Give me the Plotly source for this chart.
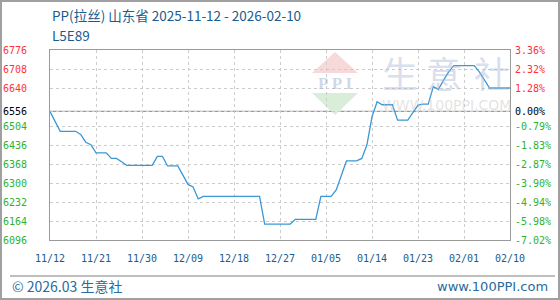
import plotly.graph_objects as go
import pandas as pd

# ---------------- data ----------------
start_date = "2025-11-12"
end_date = "2026-02-10"
base_price = 6556

prices = [
    6556, 6520, 6485, 6485, 6485, 6485, 6474, 6446, 6437, 6408,
    6408, 6408, 6388, 6388, 6376, 6363, 6363, 6363, 6363, 6363,
    6363, 6395, 6395, 6361, 6361, 6361, 6328, 6295, 6286, 6243,
    6252, 6252, 6252, 6252, 6252, 6252, 6252, 6252, 6252, 6252,
    6252, 6252, 6153, 6153, 6153, 6153, 6153, 6153, 6170, 6170,
    6170, 6170, 6170, 6252, 6252, 6252, 6275, 6325, 6379, 6379,
    6379, 6388, 6436, 6537, 6591, 6580, 6580, 6580, 6525, 6525,
    6525, 6552, 6579, 6582, 6582, 6645, 6635, 6668, 6698, 6720,
    6720, 6720, 6720, 6720, 6698, 6668, 6640, 6640, 6640, 6640,
    6640,
]

x_tick_dates = ["2025-11-12", "2025-11-21", "2025-11-30", "2025-12-09", "2025-12-18",
                "2025-12-27", "2026-01-05", "2026-01-14", "2026-01-23", "2026-02-01",
                "2026-02-10"]
x_tick_labels = ["11/12", "11/21", "11/30", "12/09", "12/18", "12/27",
                 "01/05", "01/14", "01/23", "02/01", "02/10"]

y_tick_values = [6776, 6708, 6640, 6556, 6504, 6436, 6368, 6300, 6232, 6164, 6096]
y_tick_labels = ["6776", "6708", "6640", "6556", "6504", "6436", "6368", "6300",
                 "6232", "6164", "6096"]
pct_tick_labels = ["3.36%", "2.32%", "1.28%", "0.00%", "-0.79%", "-1.83%", "-2.87%",
                   "-3.90%", "-4.94%", "-5.98%", "-7.02%"]

title_text = "PP(拉丝) 山东省 2025-11-12 - 2026-02-10"
code_text = "L5E89"
footer_left = "© 2026.03 生意社"
footer_right = "www.100PPI.com"

# ---------------- styling ----------------
W, H = 560, 300
ML, MR, MT, MB = 50, 50, 50, 60
PW, PH = W - ML - MR, H - MT - MB

RED, GREEN, BLACK = "#ff3333", "#2fb12f", "#000000"
BLUE_TXT = "#1a5c8e"
MONO = "DejaVu Sans Mono"


def px(x):
    return (x - ML) / PW


def py(y):
    return (H - MB - y) / PH


def colour_for(v):
    if v > base_price:
        return RED
    if v < base_price:
        return GREEN
    return BLACK


left_text = [f'<span style="color:{colour_for(v)}">{t}</span>'
             for v, t in zip(y_tick_values, y_tick_labels)]
right_text = [f'<span style="color:{colour_for(v)}">{t}</span>'
              for v, t in zip(y_tick_values, pct_tick_labels)]

dates = pd.date_range(start_date, periods=len(prices), freq="D")

fig = go.Figure()
fig.add_trace(go.Scatter(x=dates, y=prices, mode="lines",
                         line=dict(color="#3a98d6", width=1.3),
                         hoverinfo="skip", showlegend=False))
fig.add_trace(go.Scatter(x=dates, y=prices, mode="lines", yaxis="y2",
                         line=dict(color="rgba(0,0,0,0)", width=0),
                         hoverinfo="skip", showlegend=False))

grid = "#cccccc"
frame = "#9a9a9a"

fig.update_layout(
    width=W, height=H,
    margin=dict(l=ML, r=MR, t=MT, b=MB, pad=0, autoexpand=False),
    paper_bgcolor="white", plot_bgcolor="white",
    showlegend=False,
    xaxis=dict(type="date", range=[start_date, end_date], automargin=False,
               tickmode="array", tickvals=x_tick_dates, ticktext=x_tick_labels,
               showgrid=True, gridcolor=grid, griddash="3px,3px", gridwidth=1,
               showline=True, mirror=True, linecolor=frame, linewidth=1,
               ticks="", ticklabelstandoff=9,
               tickfont=dict(family=MONO, size=10, color=BLUE_TXT),
               zeroline=False, fixedrange=True),
    yaxis=dict(range=[y_tick_values[-1], y_tick_values[0]], automargin=False,
               tickmode="array", tickvals=y_tick_values, ticktext=left_text,
               showgrid=True, gridcolor=grid, griddash="3px,3px", gridwidth=1,
               showline=True, mirror=True, linecolor=frame, linewidth=1,
               ticks="", ticklabelstandoff=20,
               tickfont=dict(family=MONO, size=10, color=BLACK),
               zeroline=False, fixedrange=True),
    yaxis2=dict(range=[y_tick_values[-1], y_tick_values[0]], overlaying="y", side="right",
                automargin=False,
                tickmode="array", tickvals=y_tick_values, ticktext=right_text,
                showgrid=False, showline=False, ticks="", ticklabelstandoff=4,
                tickfont=dict(family=MONO, size=10, color=BLACK),
                zeroline=False, fixedrange=True),
)

shapes = []
# base price line
shapes.append(dict(type="line", xref="paper", yref="y", x0=0, x1=1,
                   y0=base_price, y1=base_price,
                   line=dict(color="#9a9a9a", width=1.2), layer="below"))
# watermark logo: red triangle, green inverted triangle
shapes.append(dict(type="path", xref="paper", yref="paper", layer="below",
                   path=f"M {px(312)} {py(73)} L {px(335)} {py(52)} L {px(358)} {py(73)} Z",
                   fillcolor="#f7d9d9", line=dict(width=0)))
shapes.append(dict(type="path", xref="paper", yref="paper", layer="below",
                   path=f"M {px(312)} {py(93)} L {px(358)} {py(93)} L {px(335)} {py(115)} Z",
                   fillcolor="#d9eed9", line=dict(width=0)))
# footer separator
shapes.append(dict(type="line", xref="paper", yref="paper",
                   x0=px(10), x1=px(555), y0=py(276), y1=py(276),
                   line=dict(color="#a8a8a8", width=1.5)))
# outer border
shapes.append(dict(type="rect", xref="paper", yref="paper",
                   x0=px(1), x1=px(559), y0=py(299), y1=py(1),
                   line=dict(color="#a0a0a0", width=2)))
fig.update_layout(shapes=shapes)

ann = []
ann.append(dict(text=title_text, xref="paper", yref="paper", x=px(50), y=py(15),
                xanchor="left", yanchor="middle", showarrow=False,
                font=dict(family="Noto Sans CJK SC", size=13.5, color=BLUE_TXT)))
ann.append(dict(text=code_text, xref="paper", yref="paper", x=px(50), y=py(35),
                xanchor="left", yanchor="middle", showarrow=False,
                font=dict(family="Noto Sans CJK SC", size=13.5, color=BLUE_TXT)))
ann.append(dict(text=footer_left, xref="paper", yref="paper", x=px(10), y=py(286),
                xanchor="left", yanchor="middle", showarrow=False,
                font=dict(family="Noto Sans CJK SC", size=14, color="#2a6a9c")))
ann.append(dict(text=footer_right, xref="paper", yref="paper", x=px(550), y=py(286),
                xanchor="right", yanchor="middle", showarrow=False,
                font=dict(family="DejaVu Sans", size=13, color="#2a6a9c")))
# watermark text
ann.append(dict(text="<b>P P I</b>", xref="paper", yref="paper", x=px(335), y=py(83),
                xanchor="center", yanchor="middle", showarrow=False,
                font=dict(family="Liberation Serif", size=17, color="rgba(170,182,210,0.55)")))
for ch, cx in zip("生意社", [400, 444, 492]):
    ann.append(dict(text=ch, xref="paper", yref="paper", x=px(cx), y=py(72),
                    xanchor="center", yanchor="middle", showarrow=False,
                    font=dict(family="Noto Sans CJK SC", size=36, color="rgba(170,182,212,0.45)")))
ann.append(dict(text="WWW.100PPI.COM", xref="paper", yref="paper", x=px(446), y=py(105),
                xanchor="center", yanchor="middle", showarrow=False,
                font=dict(family="DejaVu Sans", size=14, color="rgba(200,200,200,0.5)")))
fig.update_layout(annotations=ann)

fig.write_html("out.html", config={"displayModeBar": False})
